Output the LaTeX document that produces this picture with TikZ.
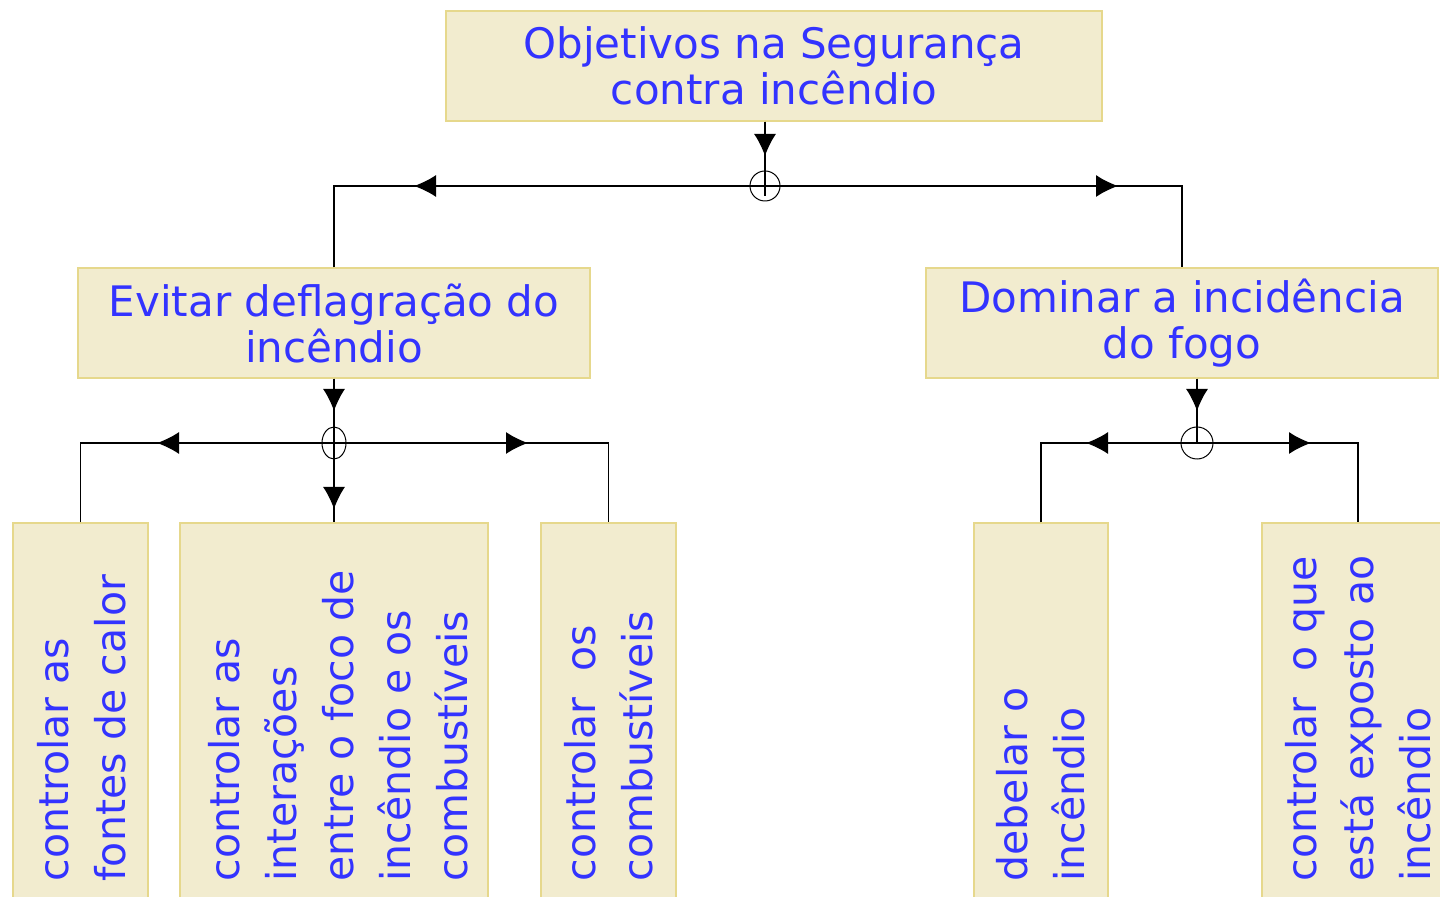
\documentclass[tikz,border=0pt]{standalone}
\usepackage{fontspec}
\setmainfont{DejaVu Sans}
\usetikzlibrary{arrows.meta,shapes.geometric}
\definecolor{boxfill}{RGB}{242,236,207}
\definecolor{boxline}{RGB}{230,216,140}
\definecolor{textcol}{RGB}{51,51,255}
\tikzset{
  box/.style={draw=boxline,fill=boxfill,line width=0.6pt,inner sep=0pt,text=textcol,align=center,font=\fontsize{21}{23}\selectfont},
  vbox/.style={draw=boxline,fill=boxfill,line width=0.6pt,minimum height=193.5pt},
  vtext/.style={rotate=90,anchor=west,align=left,inner sep=0pt,text=textcol,font=\fontsize{20.5}{28.5}\selectfont},
  junc/.style={draw,ellipse,inner sep=0pt,line width=0.5pt},
}

\begin{document}
\begin{tikzpicture}[>={Latex[length=11pt,width=11pt]},x=0.5pt,y=-0.5pt,line width=0.55pt]
  \useasboundingbox (0,0) rectangle (1440,897);
%%
  % Node: obj
  \node[box,minimum width=328pt,minimum height=55pt] (obj) at (774,66) {Objetivos na Segurança\\contra incêndio};
  % Node: evitar
  \node[box,minimum width=256pt,minimum height=55pt] (evitar) at (334,323) {Evitar deflagração do\\incêndio};
  % Node: dominar
  \node[box,minimum width=256pt,minimum height=55pt] (dominar) at (1182,323) {Dominar a incidência\\do fogo};
  % Node: b1 .. b5
  \node[vbox,minimum width=67.5pt] (b1) at (80.5,716.5) {};
  \node[vbox,minimum width=154pt] (b2) at (334,716.5) {};
  \node[vbox,minimum width=67.5pt] (b3) at (608.5,716.5) {};
  \node[vbox,minimum width=67pt] (b4) at (1041,716.5) {};
  \node[vbox,minimum width=96pt] (b5) at (1358,716.5) {};
  \node[vtext] (t1) at (81.5,882) {controlar as\\fontes de calor};
  \node[vtext] (t2) at (338,882) {controlar as\\interações\\entre o foco de\\incêndio e os\\combustíveis};
  \node[vtext] (t3) at (609,882) {controlar\ \ os\\combustíveis};
  \node[vtext] (t4) at (1041,882) {debelar o\\incêndio};
  \node[vtext] (t5) at (1358,882) {controlar\ \ o que\\está exposto ao\\incêndio};
  % Node: j0, j1, j2
  \node[junc,minimum width=15pt,minimum height=15pt] (j0) at (765,186) {};
  \node[junc,minimum width=12pt,minimum height=16pt] (j1) at (334,443) {};
  \node[junc,minimum width=16pt,minimum height=16pt] (j2) at (1197,443) {};
%
  % Edge: obj -> j0
  \draw (j0 |- obj.south) -- ([yshift=-5pt]j0.center);
  \draw[->] (j0 |- obj.south) -- (765,156);
  % Edge: j0 -> evitar, j0 -> dominar
  \draw (evitar.north) |- (j0.center) -| (dominar.north);
  \draw[->] (j0.center) -- (414,186);
  \draw[->] (j0.center) -- (1118,186);
  % Edge: evitar -> j1 -> b2
  \draw (evitar.south) -- (b2.north);
  \draw[->] (evitar.south) -- (334,411);
  \draw[->] (j1.center) -- (334,509);
  % Edge: j1 -> b1, j1 -> b3
  \draw (b1.north) |- (j1.center) -| (b3.north);
  \draw[->] (j1.center) -- (157,443);
  \draw[->] (j1.center) -- (528,443);
  % Edge: dominar -> j2
  \draw (dominar.south -| j2) -- (j2.center);
  \draw[->] (dominar.south -| j2) -- (1197,411);
  % Edge: j2 -> b4, j2 -> b5
  \draw (b4.north) |- (j2.center) -| (b5.north);
  \draw[->] (j2.center) -- (1086,443);
  \draw[->] (j2.center) -- (1311,443);
%
\end{tikzpicture}
\end{document}
